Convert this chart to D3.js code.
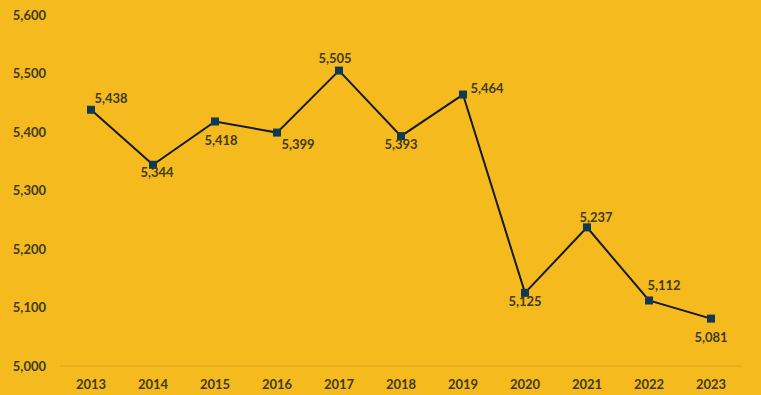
<!DOCTYPE html>
<html><head><meta charset="utf-8">
<script src="https://cdn.jsdelivr.net/npm/d3@7"></script>
<style>
html,body{margin:0;padding:0;background:#F5BA1D;}
svg{display:block;font-family:Lato,"Open Sans",sans-serif;}
</style></head>
<body>
<svg id="chart" width="761" height="395"></svg>
<script>
const years = ["2013","2014","2015","2016","2017","2018","2019","2020","2021","2022","2023"];
const values = [5438,5344,5418,5399,5505,5393,5464,5125,5237,5112,5081];
const yTicks = [5000,5100,5200,5300,5400,5500,5600];
// label placement relative to point: [dx, dy] of text center
const labelOffsets = [[20,-11],[4,8],[6,19],[21,12],[-4,-12],[0,8],[24,-6],[0,9],[9,-10],[15,-15],[0,19]];

const svg = d3.select("#chart");
const W = 761, H = 395;
const m = {left:60, right:19, top:15, bottom:29};
const x = d3.scaleBand().domain(years).range([m.left, W - m.right]);
const y = d3.scaleLinear().domain([5000,5600]).range([H - m.bottom, m.top]);
const textColor = "#403a1c";

svg.append("rect").attr("width",W).attr("height",H).attr("fill","#F5BA1D");

// baseline
svg.append("line").attr("x1",m.left).attr("x2",W-m.right)
  .attr("y1",y(5000)).attr("y2",y(5000))
  .attr("stroke","#d9a41a").attr("stroke-width",1);

// y axis labels
svg.append("g").selectAll("text").data(yTicks).join("text")
  .attr("x",46).attr("y",d=>y(d)).attr("dy","0.35em")
  .attr("text-anchor","end").attr("font-size",13).attr("font-weight","bold")
  .attr("fill",textColor).text(d=>d3.format(",")(d));

// x axis labels
svg.append("g").selectAll("text").data(years).join("text")
  .attr("x",d=>x(d)+x.bandwidth()/2).attr("y",384).attr("dy","0.35em")
  .attr("text-anchor","middle").attr("font-size",13).attr("font-weight","bold")
  .attr("fill",textColor).text(d=>d);

const pts = years.map((yr,i)=>({yr, v:values[i], off:labelOffsets[i]}));
const line = d3.line().x(d=>x(d.yr)+x.bandwidth()/2).y(d=>y(d.v));
svg.append("path").datum(pts).attr("d",line).attr("fill","none")
  .attr("stroke","#141a1e").attr("stroke-width",2);

svg.append("g").selectAll("rect").data(pts).join("rect")
  .attr("x",d=>x(d.yr)+x.bandwidth()/2-4).attr("y",d=>y(d.v)-4)
  .attr("width",8).attr("height",8).attr("fill","#0f3a52");

svg.append("g").selectAll("text").data(pts).join("text")
  .attr("x",d=>x(d.yr)+x.bandwidth()/2+d.off[0])
  .attr("y",d=>y(d.v)+d.off[1]).attr("dy","0.35em")
  .attr("text-anchor","middle").attr("font-size",13).attr("font-weight","bold")
  .attr("fill",textColor).text(d=>d3.format(",")(d.v));
</script>
</body></html>
